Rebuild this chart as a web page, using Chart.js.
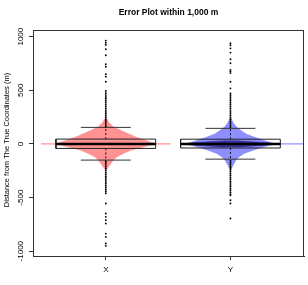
<!DOCTYPE html>
<html>
<head>
<meta charset="utf-8">
<script src="https://cdn.jsdelivr.net/npm/chart.js@4/dist/chart.umd.min.js"></script>
<style>
  body { margin: 0; background: #fff; }
</style>
</head>
<body>
<canvas id="chart" width="308" height="285"></canvas>
<script>
// Data
const categories = ['X', 'Y'];
const yTicks = [-1000, -500, 0, 500, 1000];

// box statistics per category
const q1 = [-42, -38];
const med = [0, 0];
const q3 = [45, 44];
const whiskLo = [-151, -142];
const whiskHi = [154, 145];

// outliers (drawn as dots on the centre line)
const outX = [163, 178, 196, 214, 229, 247, 262, 281, 298, 315, 333, 350, 368, 386, 402, 421, 437, 455, 472, 493,
  580, 627, 649, 720, 742, 826, 882, 925, 944, 963,
  -162, -178, -195, -213, -230, -248, -266, -283, -301, -318, -336, -354, -371, -389, -407, -424, -442, -460,
  -556, -649, -680, -711, -742, -836, -867, -929, -951];
const outY = [158, 175, 192, 210, 227, 245, 262, 280, 297, 315, 332, 350, 367, 384, 402, 419, 437, 454, 471,
  518, 580, 660, 675, 690, 752, 789, 851, 891, 920, 938,
  -156, -173, -190, -208, -225, -243, -260, -278, -295, -313, -330, -348, -365, -383, -400, -418, -435, -452, -470,
  -478, -525, -556, -696];

// bean (density) half-widths at each level, in category units
const beanLevels = [-250, -200, -150, -120, -90, -60, -40, -20, 0, 20, 40, 60, 90, 120, 160, 200, 250];
const beanX = [0, 0.03, 0.06, 0.09, 0.14, 0.2, 0.26, 0.33, 0.40, 0.35, 0.3, 0.25, 0.19, 0.13, 0.06, 0.025, 0];
const beanY = [0, 0.02, 0.045, 0.07, 0.11, 0.18, 0.23, 0.29, 0.36, 0.3, 0.25, 0.2, 0.13, 0.09, 0.045, 0.02, 0];

// darker core of the Y bean
const coreLevels = [-30, -12, 0, 12, 30];
const coreY = [0.05, 0.28, 0.4, 0.28, 0.05];

// thin peak line of each bean (left / right reach)
const peakLeft = [0.52, 0.4];
const peakRight = [0.52, 0.62];

const titleText = 'Error Plot within 1,000 m';
const yTitle = 'Distance from The True Coordinates (m)';

const beanColors = ['rgba(255, 110, 110, 0.75)', 'rgba(110, 110, 255, 0.78)'];
const peakColors = ['rgba(255, 120, 120, 1)', 'rgba(120, 120, 255, 1)'];
const FONT = '"Liberation Sans", Arial, Helvetica, sans-serif';

function beanShape(center, levels, widths) {
  const right = levels.map((v, i) => ({ x: center + widths[i], y: v }));
  const left = levels.map((v, i) => ({ x: center - widths[i], y: v })).reverse();
  return right.concat(left);
}

function line(points, color, width, order, dash) {
  return {
    data: points,
    showLine: true,
    fill: false,
    borderColor: color,
    borderWidth: width,
    borderDash: dash || [],
    pointRadius: 0,
    order: order
  };
}

const datasets = [];
[beanX, beanY].forEach((w, i) => {
  const c = i + 1;
  datasets.push({
    data: beanShape(c, beanLevels, w),
    showLine: true,
    fill: 'shape',
    backgroundColor: beanColors[i],
    borderColor: beanColors[i],
    borderWidth: 0.5,
    pointRadius: 0,
    order: 10
  });
  datasets.push(line([{ x: c - peakLeft[i], y: med[i] }, { x: c + peakRight[i], y: med[i] }], peakColors[i], 1, 9));
});

datasets.push({
  data: beanShape(2, coreLevels, coreY),
  showLine: true,
  fill: 'shape',
  backgroundColor: 'rgba(30, 30, 130, 0.8)',
  borderColor: 'rgba(30, 30, 130, 0.8)',
  borderWidth: 0.5,
  pointRadius: 0,
  order: 8
});

const outliers = [outX, outY];
categories.forEach((cat, i) => {
  const c = i + 1;
  // whiskers
  datasets.push(line([{ x: c, y: q3[i] }, { x: c, y: whiskHi[i] }], '#111', 1, 6, [2, 2]));
  datasets.push(line([{ x: c, y: q1[i] }, { x: c, y: whiskLo[i] }], '#111', 1, 6, [2, 2]));
  datasets.push(line([{ x: c - 0.2, y: whiskHi[i] }, { x: c + 0.2, y: whiskHi[i] }], '#333', 1, 5));
  datasets.push(line([{ x: c - 0.2, y: whiskLo[i] }, { x: c + 0.2, y: whiskLo[i] }], '#333', 1, 5));
  // box
  datasets.push(line([
    { x: c - 0.4, y: q1[i] }, { x: c + 0.4, y: q1[i] },
    { x: c + 0.4, y: q3[i] }, { x: c - 0.4, y: q3[i] },
    { x: c - 0.4, y: q1[i] }
  ], '#222', 1, 4));
  // median
  datasets.push(line([{ x: c - 0.4, y: med[i] }, { x: c + 0.4, y: med[i] }], '#000', 2.5, 3));
  // outliers
  datasets.push({
    data: outliers[i].map(v => ({ x: c, y: v })),
    showLine: false,
    pointRadius: 0.95,
    pointBackgroundColor: '#000',
    pointBorderWidth: 0,
    order: 1
  });
});

const frame = {
  id: 'frame',
  afterDraw(chart) {
    const { ctx, chartArea: a, scales: { y } } = chart;
    ctx.save();
    ctx.strokeStyle = '#333';
    ctx.lineWidth = 1;
    ctx.strokeRect(a.left + 0.5, a.top + 0.5, a.right - a.left - 1, a.bottom - a.top);

    ctx.fillStyle = '#000';
    ctx.textAlign = 'center';
    ctx.textBaseline = 'middle';
    ctx.font = 'bold 8.5px ' + FONT;
    ctx.fillText(titleText, (a.left + a.right) / 2, 13);

    ctx.font = '8px ' + FONT;
    y.ticks.forEach(t => {
      ctx.save();
      ctx.translate(21, y.getPixelForValue(t.value));
      ctx.rotate(-Math.PI / 2);
      ctx.fillText(String(t.value), 0, 0);
      ctx.restore();
    });

    ctx.font = '7.5px ' + FONT;
    ctx.save();
    ctx.translate(7, (a.top + a.bottom) / 2 - 3);
    ctx.rotate(-Math.PI / 2);
    ctx.fillText(yTitle, 0, 0);
    ctx.restore();
    ctx.restore();
  }
};

new Chart(document.getElementById('chart').getContext('2d'), {
  type: 'scatter',
  data: { datasets: datasets },
  options: {
    responsive: false,
    animation: false,
    events: [],
    layout: { padding: { top: 30, right: 4, left: 0, bottom: 0 } },
    plugins: {
      legend: { display: false },
      tooltip: { enabled: false }
    },
    scales: {
      x: {
        type: 'linear',
        min: 0.416,
        max: 2.59,
        afterBuildTicks: s => { s.ticks = [{ value: 1 }, { value: 2 }]; },
        afterFit: s => { s.height = 29; },
        ticks: {
          callback: v => categories[v - 1],
          color: '#000',
          font: { family: FONT, size: 8 },
          padding: 5,
          maxRotation: 0
        },
        grid: { drawOnChartArea: false, tickLength: 4, color: '#333' },
        border: { color: '#333' }
      },
      y: {
        min: -1045,
        max: 1062,
        afterBuildTicks: s => { s.ticks = yTicks.map(v => ({ value: v })); },
        afterFit: s => { s.width = 33; },
        ticks: { display: false },
        grid: { drawOnChartArea: false, tickLength: 4, color: '#333' },
        border: { color: '#333' }
      }
    }
  },
  plugins: [frame]
});
</script>
</body>
</html>
